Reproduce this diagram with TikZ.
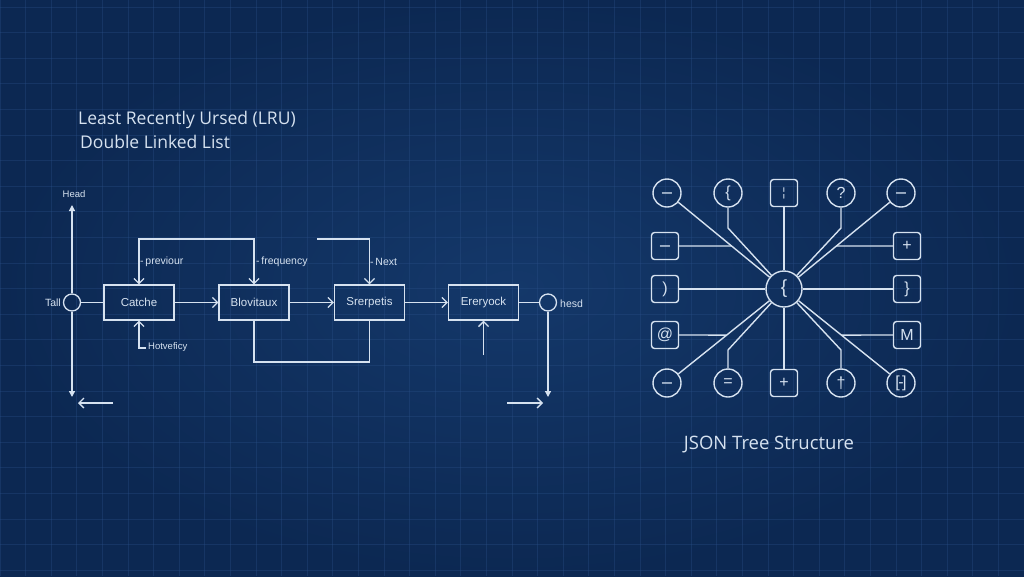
\documentclass[tikz,border=0pt]{standalone}
\usepackage{fontspec}
\setmainfont{Open Sans}
\newfontfamily\lab{Liberation Sans}
\newfontfamily\glyf{DejaVu Sans}
\usetikzlibrary{arrows.meta,calc}
\definecolor{bgc}{HTML}{0C2852}
\definecolor{bgin}{HTML}{14386A}
\definecolor{gridc}{HTML}{2A5088}
\definecolor{ink}{HTML}{D6E2F0}
\begin{document}
\begin{tikzpicture}[x=1pt,y=-1pt,
  ln/.style={draw=ink, line width=1.3pt},
  arr/.style={ln, -{Straight Barb[length=5pt,width=10pt]}},
  tarr/.style={ln, -{Triangle[length=6pt,width=6pt]}},
  box/.style={draw=ink, line width=1.3pt, minimum width=70pt, minimum height=35pt, inner sep=0pt, text=ink, font=\lab\fontsize{11.5}{13}\selectfont},
  hub/.style={circle, draw=ink, line width=1.3pt, minimum size=17pt, inner sep=0pt},
  lbl/.style={text=ink, font=\lab\fontsize{10.5}{12}\selectfont, inner sep=0pt},
  ttl/.style={text=ink, font=\fontsize{17.5}{21}\selectfont, inner sep=0pt},
  jc/.style={circle, draw=ink, line width=1.4pt, minimum size=28pt, inner sep=0pt, text=ink, font=\lab\fontsize{16}{18}\selectfont},
  js/.style={rectangle, rounded corners=3pt, draw=ink, line width=1.4pt, minimum size=27pt, inner sep=0pt, text=ink, font=\lab\fontsize{16}{18}\selectfont},
  mn/.style={text height=10pt, text depth=0pt, font=\glyf\fontsize{16}{18}\selectfont},
  jl/.style={draw=ink, line width=1.4pt}
]
% background
\useasboundingbox (0,0) rectangle (1024,576);
\fill[bgc] (0,0) rectangle (1024,576);
\shade[inner color=bgin, outer color=bgc] (0,0) rectangle (1024,576);
\foreach \i in {0,...,40} \draw[gridc, line width=0.8pt, opacity=0.35] (25.6*\i,0) -- (25.6*\i,576);
\foreach \j in {0,...,23} \draw[gridc, line width=0.8pt, opacity=0.35] (0,7+25.6*\j) -- (1024,7+25.6*\j);

% titles
\node[ttl, anchor=west] (t1) at (78,120) {Least Recently Ursed (LRU)};
\node[ttl, anchor=west] (t2) at (80,142) {Double Linked List};

% linked list
\node[box] (c) at (139,302.5) {Catche};
\node[box] (b) at (254,302.5) {Blovitaux};
\node[box] (s) at (369.5,302.5) {Srerpetis};
\node[box] (e) at (483.5,302.5) {Ereryock};
\node[hub] (tail) at (72,302.5) {};
\node[hub] (hr) at (548,302.5) {};

\node[lbl, font=\lab\fontsize{9.5}{11}\selectfont] (head) at (74,194) {Head};
\node[lbl, anchor=east] (tl) at (61,303) {Tall};
\node[lbl, anchor=west] (hs) at (560,304) {hesd};

\coordinate (hd) at (72,205);
\coordinate (lb) at (72,397);
\coordinate (rb) at (548,397);
\coordinate (la1) at (113,403);
\coordinate (la2) at (78,403);
\coordinate (ra1) at (507,403);
\coordinate (ra2) at (543,403);

\draw[tarr] (tail) -- (hd);
\draw[tarr] (tail) -- (lb);
\draw[ln] (tail) -- (c);
\draw[arr] (c) -- (b);
\draw[arr] (b) -- (s);
\draw[arr] (s) -- (e);
\draw[ln] (e) -- (hr);
\draw[tarr] (hr) -- (rb);
\draw[arr] (la1) -- (la2);
\draw[arr] (ra1) -- (ra2);

% top feedback lines
\coordinate (tp1) at (139,239);
\draw[ln, {Straight Barb[length=5pt,width=10pt]}-{Straight Barb[length=5pt,width=10pt]}] (c.north) -- (tp1) -| (b.north);
\coordinate (tp2) at (317,239);
\draw[arr] (tp2) -| (s.north);
\node[lbl, anchor=west] (pv) at (140,262) {-\,previour};
\node[lbl, anchor=west] (fq) at (256,262) {-\,frequency};
\node[lbl, anchor=west] (nx) at (370,262) {-\,Next};

% bottom links
\coordinate (bt) at (254,362);
\draw[ln] (b.south) -- (bt) -| (s.south);
\coordinate (hv1) at (146,348);
\coordinate (hv) at (139,348);
\draw[arr] (hv1) -- (hv) -- (c.south);
\node[lbl, anchor=west, font=\lab\fontsize{9.5}{11}\selectfont] (hvt) at (148,347) {Hotveficy};
\coordinate (e0) at (483.5,355);
\draw[arr] (e0) -- (e.south);

% JSON tree
\node[jc, minimum size=36pt, font=\lab\fontsize{19}{21}\selectfont] (ctr) at (784,289) {\{};
\node[jc, mn] (r1a) at (667,193) {−};
\node[jc] (r1b) at (728,193) {\{};
\node[js] (r1c) at (784,193) {\fontsize{12}{13}\selectfont ¦};
\node[jc] (r1d) at (841,193) {?};
\node[jc, mn] (r1e) at (901,193) {−};
\node[js, mn] (l2) at (665,246) {−};
\node[js] (rr2) at (907,246) {+};
\node[js] (l3) at (665,289) {)};
\node[js] (rr3) at (907,289) {\}};
\node[js] (l4) at (665,335) {@};
\node[js] (rr4) at (907,335) {M};
\node[jc, mn] (r5a) at (667,383) {−};
\node[jc] (r5b) at (728,383) {=};
\node[js] (r5c) at (784,383) {+};
\node[jc] (r5d) at (841,383) {†};
\node[jc] (r5e) at (901,383) {[\kern-1.5pt-\kern-1.5pt]};

\coordinate (j1b) at (728,228);
\coordinate (j1d) at (841,228);
\coordinate (j5b) at (728,350);
\coordinate (j5d) at (841,350);
\coordinate (j2l) at ($(r1a)!0.552!(ctr)$);
\coordinate (j2r) at ($(r1e)!0.552!(ctr)$);
\coordinate (j4l) at ($(r5a)!0.51!(ctr)$);
\coordinate (j4r) at ($(r5e)!0.51!(ctr)$);

\draw[jl] (r1a) -- (ctr);
\draw[jl] (r1b) -- (j1b) -- (ctr);
\draw[jl] (r1c) -- (ctr);
\draw[jl] (r1d) -- (j1d) -- (ctr);
\draw[jl] (r1e) -- (ctr);
\draw[jl] (l2) -- (j2l);
\draw[jl] (rr2) -- (j2r);
\draw[jl] (l3) -- (ctr);
\draw[jl] (rr3) -- (ctr);
\draw[jl] (l4) -- (j4l);
\draw[jl] (rr4) -- (j4r);
\draw[jl] (r5a) -- (ctr);
\draw[jl] (r5b) -- (j5b) -- (ctr);
\draw[jl] (r5c) -- (ctr);
\draw[jl] (r5d) -- (j5d) -- (ctr);
\draw[jl] (r5e) -- (ctr);

\node[ttl, font=\fontsize{18.5}{22}\selectfont] (jt) at (769,445) {JSON Tree Structure};
\end{tikzpicture}
\end{document}
